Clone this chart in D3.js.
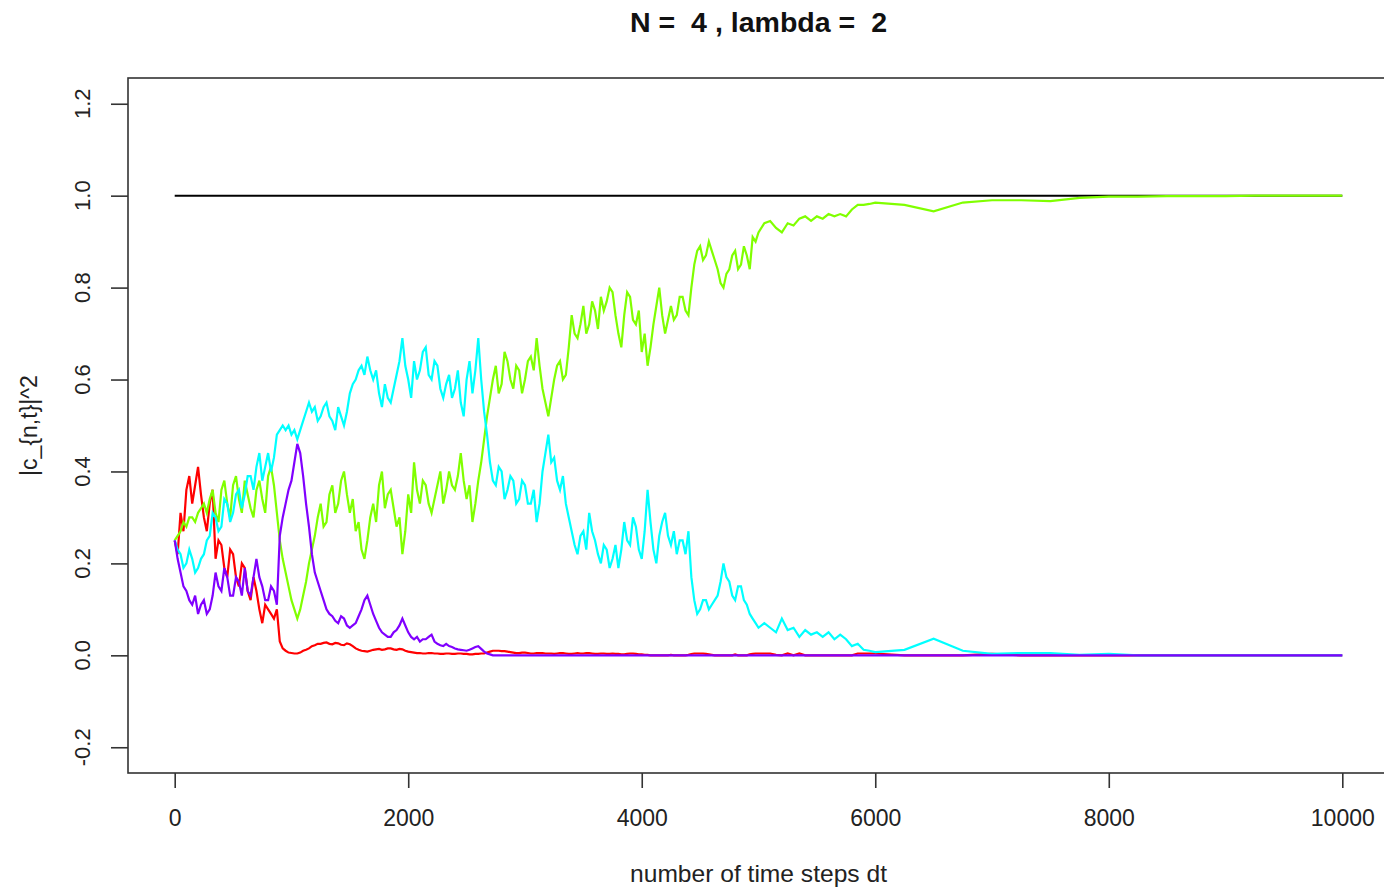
<!DOCTYPE html>
<html>
<head>
<meta charset="utf-8">
<script src="https://cdnjs.cloudflare.com/ajax/libs/d3/7.8.5/d3.min.js"></script>
<style>
  body { margin: 0; background: #fff; }
  svg { display: block; font-family: Arial, 'Liberation Sans', sans-serif; }
</style>
</head>
<body>
<div id="chart"></div>
<script>
// Time grid (dt steps): every 25 steps up to 5000, every 50 up to 6000, then every 250
const stepsFine = d3.range(0, 5001, 25);
const stepsMid = d3.range(5050, 6001, 50);
const stepsCoarse = [6250, 6500, 6750, 7000, 7250, 7500, 7750, 8000, 8250, 8500, 8750, 9000, 9250, 9500, 9750, 10000];
const timeSteps = stepsFine.concat(stepsMid, stepsCoarse);

// |c_{n,t}|^2 for n = 1..4
const redValues = [
  0.25, 0.22, 0.31, 0.27, 0.36, 0.39, 0.33, 0.37, 0.41, 0.35,
  0.30, 0.27, 0.33, 0.36, 0.21, 0.25, 0.24, 0.19, 0.17, 0.23,
  0.22, 0.17, 0.15, 0.20, 0.19, 0.14, 0.12, 0.17, 0.14, 0.10,
  0.07, 0.11, 0.10, 0.09, 0.08, 0.10, 0.03, 0.015, 0.01, 0.006,
  0.005, 0.004, 0.004, 0.006, 0.01, 0.012, 0.015, 0.02, 0.022, 0.025,
  0.025, 0.027, 0.028, 0.025, 0.024, 0.027, 0.026, 0.023, 0.022, 0.026,
  0.024, 0.02, 0.015, 0.012, 0.01, 0.009, 0.008, 0.01, 0.012, 0.013,
  0.014, 0.012, 0.013, 0.015, 0.015, 0.013, 0.012, 0.014, 0.013, 0.01,
  0.008, 0.007, 0.006, 0.005, 0.005, 0.004, 0.004, 0.005, 0.005, 0.004,
  0.004, 0.003, 0.003, 0.004, 0.004, 0.003, 0.003, 0.004, 0.004, 0.003,
  0.003, 0.002, 0.002, 0.003, 0.003, 0.004, 0.004, 0.006, 0.008, 0.01,
  0.01, 0.01, 0.009, 0.009, 0.008, 0.007, 0.006, 0.005, 0.005, 0.006,
  0.006, 0.005, 0.004, 0.004, 0.005, 0.005, 0.005, 0.004, 0.004, 0.004,
  0.003, 0.004, 0.005, 0.005, 0.004, 0.003, 0.003, 0.004, 0.005, 0.004,
  0.004, 0.005, 0.005, 0.004, 0.003, 0.003, 0.004, 0.004, 0.003, 0.003,
  0.004, 0.003, 0.003, 0.002, 0.002, 0.003, 0.004, 0.004, 0.003, 0.002,
  0.002, 0.001, 0.001, 0, 0, 0, 0, 0, 0, 0,
  0.001, 0, 0, 0, 0, 0, 0.001, 0.003, 0.004, 0.004,
  0.004, 0.004, 0.003, 0.002, 0.001, 0, 0, 0, 0, 0,
  0, 0, 0.002, 0, 0, 0, 0, 0.002, 0.003, 0.004,
  0.004,
  0.004, 0.004, 0.001, 0, 0.004, 0, 0.004, 0, 0, 0,
  0, 0, 0, 0, 0, 0, 0.004, 0.004, 0.004, 0.004,
  0, 0, 0, 0.003, 0, 0, 0, 0, 0, 0, 0, 0, 0, 0, 0, 0
];
const greenValues = [
  0.25, 0.26, 0.27, 0.29, 0.28, 0.30, 0.30, 0.29, 0.31, 0.32,
  0.33, 0.31, 0.34, 0.36, 0.31, 0.29, 0.36, 0.38, 0.33, 0.30,
  0.37, 0.39, 0.34, 0.31, 0.38, 0.35, 0.32, 0.30, 0.36, 0.38,
  0.34, 0.31, 0.39, 0.41, 0.37, 0.31, 0.25, 0.21, 0.18, 0.15,
  0.12, 0.10, 0.08, 0.10, 0.13, 0.16, 0.20, 0.23, 0.26, 0.30,
  0.33, 0.28, 0.29, 0.35, 0.37, 0.31, 0.33, 0.38, 0.40, 0.35,
  0.31, 0.34, 0.27, 0.29, 0.23, 0.21, 0.25, 0.30, 0.33, 0.29,
  0.37, 0.40, 0.32, 0.35, 0.36, 0.32, 0.28, 0.30, 0.22, 0.27,
  0.35, 0.31, 0.42, 0.36, 0.33, 0.38, 0.37, 0.33, 0.31, 0.34,
  0.37, 0.40, 0.33, 0.36, 0.40, 0.37, 0.36, 0.39, 0.44, 0.38,
  0.34, 0.37, 0.29, 0.33, 0.38, 0.42, 0.47, 0.52, 0.56, 0.60,
  0.63, 0.57, 0.59, 0.66, 0.64, 0.60, 0.58, 0.63, 0.62, 0.57,
  0.60, 0.64, 0.65, 0.62, 0.69, 0.63, 0.58, 0.55, 0.52, 0.56,
  0.60, 0.63, 0.64, 0.60, 0.61, 0.67, 0.74, 0.70, 0.69, 0.72,
  0.76, 0.70, 0.72, 0.77, 0.75, 0.71, 0.78, 0.75, 0.77, 0.80,
  0.79, 0.74, 0.70, 0.67, 0.74, 0.79, 0.78, 0.73, 0.72, 0.75,
  0.66, 0.70, 0.63, 0.67, 0.72, 0.76, 0.80, 0.74, 0.70, 0.73,
  0.76, 0.73, 0.74, 0.78, 0.78, 0.75, 0.74, 0.80, 0.85, 0.88,
  0.89, 0.86, 0.87, 0.90, 0.88, 0.86, 0.84, 0.81, 0.80, 0.83,
  0.84, 0.87, 0.88, 0.84, 0.85, 0.89, 0.87, 0.84, 0.91, 0.90,
  0.92,
  0.94, 0.945, 0.93, 0.92, 0.94, 0.935, 0.95, 0.955, 0.945, 0.955,
  0.95, 0.96, 0.955, 0.96, 0.955, 0.97, 0.98, 0.98, 0.982, 0.985,
  0.98, 0.966, 0.985, 0.99, 0.99, 0.988, 0.995, 0.998, 0.998, 0.999, 0.999, 0.999, 1.0, 1.0, 1.0, 1.0
];
const cyanValues = [
  0.25, 0.23, 0.22, 0.19, 0.20, 0.23, 0.21, 0.18, 0.19, 0.21,
  0.22, 0.25, 0.26, 0.31, 0.30, 0.27, 0.28, 0.34, 0.33, 0.29,
  0.31, 0.35, 0.36, 0.32, 0.35, 0.39, 0.39, 0.36, 0.41, 0.44,
  0.38, 0.41, 0.44, 0.40, 0.43, 0.48, 0.49, 0.50, 0.49, 0.50,
  0.48, 0.49, 0.47, 0.49, 0.51, 0.53, 0.55, 0.53, 0.54, 0.51,
  0.52, 0.54, 0.55, 0.52, 0.51, 0.49, 0.54, 0.52, 0.50, 0.53,
  0.57, 0.59, 0.60, 0.62, 0.63, 0.61, 0.65, 0.62, 0.60, 0.62,
  0.57, 0.54, 0.59, 0.56, 0.55, 0.58, 0.61, 0.64, 0.69, 0.63,
  0.60, 0.56, 0.64, 0.60, 0.62, 0.66, 0.67, 0.61, 0.60, 0.64,
  0.63, 0.58, 0.56, 0.59, 0.61, 0.56, 0.58, 0.62, 0.55, 0.52,
  0.60, 0.64, 0.57, 0.62, 0.69, 0.60, 0.53, 0.48, 0.42, 0.38,
  0.37, 0.41, 0.40, 0.34, 0.36, 0.39, 0.38, 0.33, 0.34, 0.38,
  0.37, 0.33, 0.33, 0.36, 0.29, 0.33, 0.40, 0.44, 0.48, 0.42,
  0.43, 0.38, 0.36, 0.39, 0.33, 0.30, 0.27, 0.24, 0.22, 0.26,
  0.27, 0.23, 0.31, 0.27, 0.25, 0.22, 0.20, 0.24, 0.23, 0.19,
  0.21, 0.24, 0.19, 0.23, 0.29, 0.25, 0.24, 0.30, 0.28, 0.23,
  0.21, 0.27, 0.36, 0.29, 0.23, 0.20, 0.26, 0.29, 0.31, 0.26,
  0.24, 0.27, 0.22, 0.25, 0.25, 0.22, 0.27, 0.17, 0.12, 0.09,
  0.10, 0.12, 0.12, 0.10, 0.11, 0.12, 0.13, 0.16, 0.20, 0.17,
  0.16, 0.13, 0.12, 0.15, 0.15, 0.12, 0.11, 0.09, 0.08, 0.07,
  0.06,
  0.07, 0.06, 0.05, 0.08, 0.055, 0.06, 0.04, 0.055, 0.045, 0.05,
  0.04, 0.05, 0.035, 0.045, 0.035, 0.02, 0.025, 0.012, 0.01, 0.007,
  0.012, 0.036, 0.01, 0.003, 0.005, 0.005, 0.001, 0.003, 0, 0, 0, 0, 0, 0, 0, 0
];
const purpleValues = [
  0.25, 0.21, 0.18, 0.15, 0.14, 0.12, 0.11, 0.13, 0.09, 0.11,
  0.12, 0.09, 0.10, 0.13, 0.18, 0.15, 0.14, 0.19, 0.17, 0.13,
  0.13, 0.17, 0.16, 0.13, 0.19, 0.14, 0.13, 0.17, 0.21, 0.17,
  0.15, 0.12, 0.12, 0.15, 0.14, 0.11, 0.26, 0.30, 0.33, 0.36,
  0.38, 0.42, 0.46, 0.44, 0.39, 0.33, 0.28, 0.22, 0.18, 0.16,
  0.14, 0.12, 0.10, 0.09, 0.085, 0.075, 0.07, 0.085, 0.08, 0.065,
  0.06, 0.065, 0.07, 0.085, 0.10, 0.12, 0.13, 0.11, 0.09, 0.075,
  0.06, 0.05, 0.045, 0.04, 0.04, 0.05, 0.055, 0.065, 0.08, 0.065,
  0.05, 0.04, 0.035, 0.04, 0.03, 0.035, 0.035, 0.04, 0.045, 0.03,
  0.025, 0.022, 0.02, 0.025, 0.02, 0.018, 0.015, 0.013, 0.012, 0.011,
  0.01, 0.012, 0.015, 0.018, 0.02, 0.014, 0.008, 0.004, 0.002, 0,
  0, 0, 0, 0, 0, 0, 0, 0, 0, 0,
  0, 0, 0, 0, 0, 0, 0, 0, 0, 0,
  0, 0, 0, 0, 0, 0, 0, 0, 0, 0,
  0, 0, 0, 0, 0, 0, 0, 0, 0, 0,
  0, 0, 0, 0, 0, 0, 0, 0, 0, 0,
  0, 0, 0, 0, 0, 0, 0, 0, 0, 0,
  0, 0, 0, 0, 0, 0, 0, 0, 0, 0,
  0, 0, 0, 0, 0, 0, 0, 0, 0, 0,
  0, 0, 0, 0, 0, 0, 0, 0, 0, 0,
  0,
  0, 0, 0, 0, 0, 0, 0, 0, 0, 0,
  0, 0, 0, 0, 0, 0, 0, 0, 0, 0,
  0, 0, 0, 0, 0, 0, 0, 0, 0, 0, 0, 0, 0, 0, 0, 0
];
// total probability
const normSteps = [0, 10000];
const normValues = [1, 1];

const seriesValues = [redValues, greenValues, cyanValues, purpleValues];
const seriesColors = ['#FF0000', '#80FF00', '#00FFFF', '#8000FF'];

const xTicks = [0, 2000, 4000, 6000, 8000, 10000];
const yTicks = [-0.2, 0.0, 0.2, 0.4, 0.6, 0.8, 1.0, 1.2];

const titleText = 'N =  4 , lambda =  2';
const xLabel = 'number of time steps dt';
const yLabel = '|c_{n,t}|^2';

// Layout
const width = 1384;
const height = 890;
const plotLeft = 128;
const plotTop = 78;
const plotRight = 1389;
const plotBottom = 773;
const axisColor = '#333';

const svg = d3.select('#chart').append('svg')
  .attr('width', width)
  .attr('height', height);

// Scales (R adds 4% to each side of the range)
const x = d3.scaleLinear().domain([-400, 10400]).range([plotLeft, plotRight]);
const y = d3.scaleLinear().domain([-0.256, 1.256]).range([plotBottom, plotTop]);

// Lines
const line = d3.line()
  .x(d => x(d[0]))
  .y(d => y(d[1]));

svg.append('path')
  .attr('d', line(normSteps.map((t, i) => [t, normValues[i]])))
  .attr('fill', 'none')
  .attr('stroke', '#000')
  .attr('stroke-width', 2);

seriesValues.forEach((values, i) => {
  svg.append('path')
    .attr('d', line(timeSteps.map((t, j) => [t, values[j]])))
    .attr('fill', 'none')
    .attr('stroke', seriesColors[i])
    .attr('stroke-width', 2.2)
    .attr('stroke-linejoin', 'miter');
});

// Box
svg.append('rect')
  .attr('x', plotLeft)
  .attr('y', plotTop)
  .attr('width', plotRight - plotLeft)
  .attr('height', plotBottom - plotTop)
  .attr('fill', 'none')
  .attr('stroke', axisColor)
  .attr('stroke-width', 1.6);

// Axes
const xAxis = svg.append('g')
  .attr('transform', `translate(0,${plotBottom})`)
  .call(d3.axisBottom(x).tickValues(xTicks).tickSize(15).tickSizeOuter(0).tickPadding(22).tickFormat(d => d));
xAxis.select('.domain').remove();
xAxis.selectAll('line').attr('stroke', axisColor).attr('stroke-width', 1.6);
xAxis.selectAll('text')
  .attr('fill', '#222')
  .style('font-size', '23px')
  .style('font-family', 'Arial, "Liberation Sans", sans-serif');

const yAxis = svg.append('g')
  .attr('transform', `translate(${plotLeft},0)`)
  .call(d3.axisLeft(y).tickValues(yTicks).tickSize(17).tickSizeOuter(0).tickFormat(''));
yAxis.select('.domain').remove();
yAxis.selectAll('line').attr('stroke', axisColor).attr('stroke-width', 1.6);

svg.append('g').selectAll('text')
  .data(yTicks)
  .join('text')
  .attr('transform', d => `translate(90,${y(d)}) rotate(-90)`)
  .attr('text-anchor', 'middle')
  .attr('fill', '#222')
  .style('font-size', '22px')
  .text(d => d.toFixed(1));

// Titles
svg.append('text')
  .attr('transform', `translate(${(plotLeft + plotRight) / 2},32) scale(1.02,1)`)
  .attr('text-anchor', 'middle')
  .attr('font-weight', 'bold')
  .attr('fill', '#111')
  .style('font-size', '28px')
  .style('white-space', 'pre')
  .text(titleText);

svg.append('text')
  .attr('transform', `translate(${(plotLeft + plotRight) / 2},882) scale(1.07,1)`)
  .attr('text-anchor', 'middle')
  .attr('fill', '#222')
  .style('font-size', '23px')
  .text(xLabel);

svg.append('text')
  .attr('transform', `translate(37,${(plotTop + plotBottom) / 2}) rotate(-90)`)
  .attr('text-anchor', 'middle')
  .attr('fill', '#222')
  .style('font-size', '23px')
  .text(yLabel);
</script>
</body>
</html>
